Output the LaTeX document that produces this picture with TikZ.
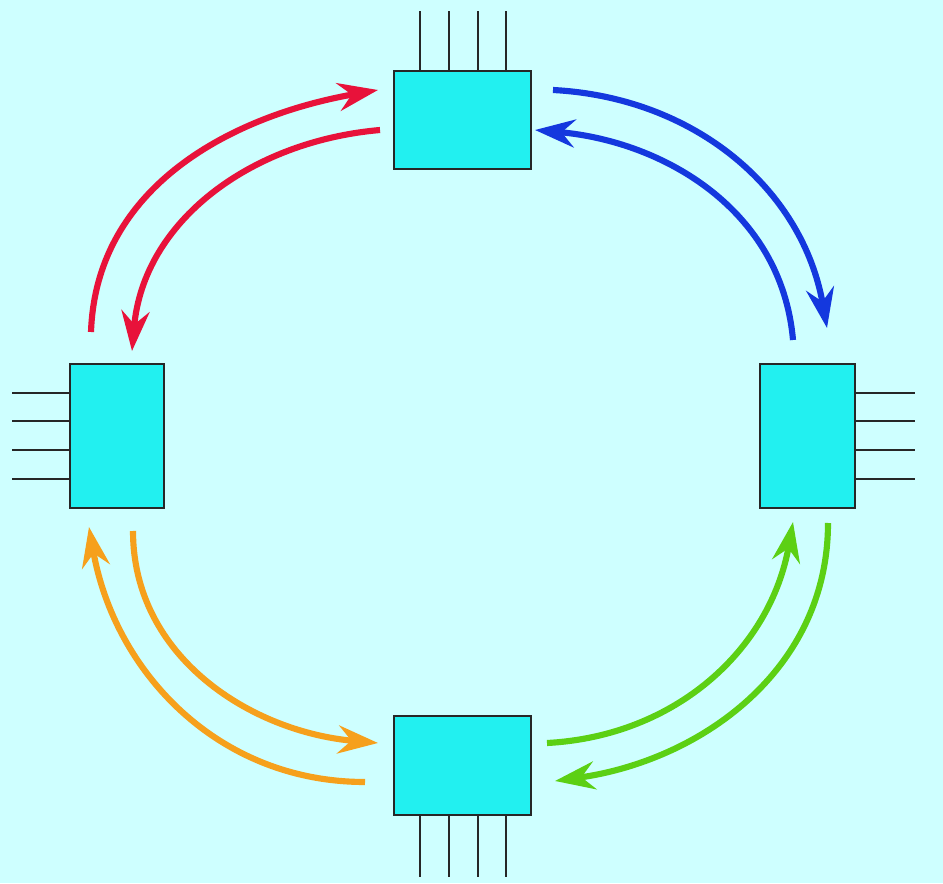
\documentclass[tikz,border=0pt]{standalone}
\usetikzlibrary{arrows.meta}
\definecolor{bgcyan}{RGB}{206,255,255}
\definecolor{boxcyan}{RGB}{34,240,240}
\definecolor{redflow}{RGB}{232,18,58}
\definecolor{blueflow}{RGB}{20,56,222}
\definecolor{greenflow}{RGB}{92,208,20}
\definecolor{orangeflow}{RGB}{246,160,28}
\begin{document}
\begin{tikzpicture}[x=0.75pt,y=0.75pt]
        \tikzstyle{unit}=[rectangle,draw=black!85,line width=1.5pt,fill=boxcyan,inner sep=0pt]
        \tikzstyle{wide}=[minimum width=103pt,minimum height=74pt]
        \tikzstyle{tall}=[minimum width=71pt,minimum height=108pt]
        \tikzstyle{pin}=[draw=black!85,line width=1.5pt]
        \tikzstyle{flow}=[line width=4.6pt,-{Stealth[length=30pt,width=21pt,inset=10pt]}]

        \fill[bgcyan] (0,0) rectangle (943,883);

       \begin{scope}

         \node [unit,wide] (top) at (462.5,763) {};
         \node [unit,tall] (left) at (117,447) {};
         \node [unit,tall] (right) at (807.5,447) {};
         \node [unit,wide] (bottom) at (462.5,117.5) {};

         % pins
         \foreach \d in {-43,-14,15,43} {
           \draw[pin] (top.north) ++(\d,0) -- ++(0,59);
           \draw[pin] (bottom.south) ++(\d,0) -- ++(0,-61);
           \draw[pin] (left.west) ++(0,\d) -- ++(-57,0);
           \draw[pin] (right.east) ++(0,\d) -- ++(59,0);
         }

         % arrow ends
         \coordinate (r1) at (91,551);   \coordinate (r2) at (378,793);
         \coordinate (r3) at (380,753);  \coordinate (r4) at (132,532);
         \coordinate (b1) at (553,793);  \coordinate (b2) at (827,555);
         \coordinate (b3) at (793,543);  \coordinate (b4) at (535,753);
         \coordinate (g1) at (547,140);  \coordinate (g2) at (793,361);
         \coordinate (g3) at (828,360);  \coordinate (g4) at (555,102);
         \coordinate (o1) at (365,101);  \coordinate (o2) at (89,356);
         \coordinate (o3) at (133,352);  \coordinate (o4) at (378,140);

         \draw[flow,redflow] (r1) to[out=88,in=190] (r2);
         \draw[flow,redflow] (r3) to[out=185,in=85] (r4);
         \draw[flow,blueflow] (b1) to[out=-3,in=100] (b2);
         \draw[flow,blueflow] (b3) to[out=95,in=-5] (b4);
         \draw[flow,greenflow] (g1) to[out=3,in=-100] (g2);
         \draw[flow,greenflow] (g3) to[out=-90,in=8] (g4);
         \draw[flow,orangeflow] (o1) to[out=180,in=-80] (o2);
         \draw[flow,orangeflow] (o3) to[out=-90,in=175] (o4);

        \end{scope}
      \end{tikzpicture}
\end{document}
